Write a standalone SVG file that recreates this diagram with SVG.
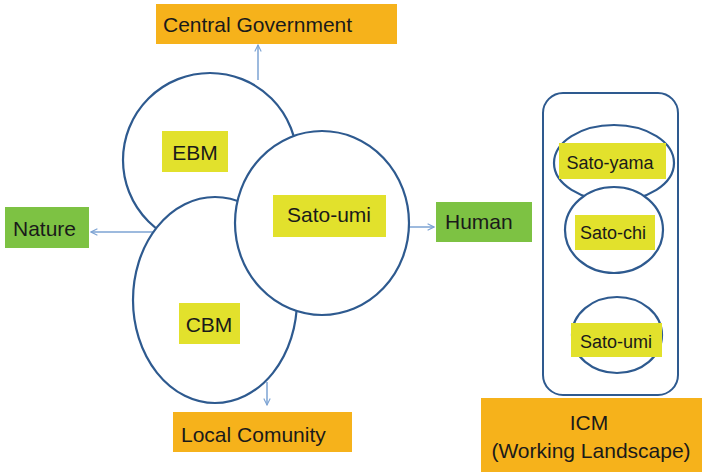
<svg xmlns="http://www.w3.org/2000/svg" width="702" height="472" viewBox="0 0 702 472">
  <defs>
    <marker id="arrow" viewBox="0 0 10 10" refX="9" refY="5" markerWidth="8" markerHeight="8" markerUnits="userSpaceOnUse" orient="auto">
      <path d="M1,1 L9,5 L1,9" fill="none" stroke="#7DA3D3" stroke-width="1.4"/>
    </marker>
  </defs>
  <style>
    text { font-family: "Liberation Sans", Arial, sans-serif; fill: #1a1a1a; }
    .ring { fill: #ffffff; stroke: #2E5A8F; stroke-width: 2.2; }
    .orange { fill: #F6B21B; }
    .green { fill: #7DC243; }
    .yellow { fill: #E2E12C; }
    .big { font-size: 21px; }
    .small { font-size: 18px; }
    .link { fill: none; stroke: #7DA3D3; stroke-width: 1.5; marker-end: url(#arrow); }
  </style>
  <rect width="702" height="472" fill="#ffffff"/>

  <!-- connectors -->
  <g id="connectors">
    <line class="link" x1="258" y1="80" x2="258" y2="45"/>
    <line class="link" x1="157" y1="232" x2="91" y2="232"/>
    <line class="link" x1="409" y1="227" x2="434" y2="227"/>
    <line class="link" x1="267" y1="382" x2="267" y2="405"/>
  </g>

  <!-- overlapping management circles -->
  <g id="ebm">
    <circle class="ring" cx="210" cy="160" r="87"/>
    <rect class="yellow" x="162" y="131" width="66" height="41"/>
    <text class="big" x="195" y="160" text-anchor="middle">EBM</text>
  </g>
  <g id="cbm">
    <ellipse class="ring" cx="215" cy="300" rx="82" ry="103"/>
    <rect class="yellow" x="179" y="303" width="61" height="41"/>
    <text class="big" x="209" y="332" text-anchor="middle">CBM</text>
  </g>
  <g id="sato-umi">
    <ellipse class="ring" cx="322" cy="223" rx="87" ry="92"/>
    <rect class="yellow" x="273" y="195" width="113" height="42"/>
    <text class="big" x="329" y="222" text-anchor="middle">Sato-umi</text>
  </g>

  <!-- outer labels -->
  <g id="central-government">
    <rect class="orange" x="156" y="4" width="241" height="40"/>
    <text class="big" x="163" y="32">Central Government</text>
  </g>
  <g id="nature">
    <rect class="green" x="5" y="207" width="84" height="41"/>
    <text class="big" x="13" y="236">Nature</text>
  </g>
  <g id="human">
    <rect class="green" x="436" y="202" width="96" height="40"/>
    <text class="big" x="445" y="229">Human</text>
  </g>
  <g id="local-community">
    <rect class="orange" x="173" y="412" width="179" height="40"/>
    <text class="big" x="181" y="442">Local Comunity</text>
  </g>

  <!-- working landscape panel -->
  <g id="landscape">
    <rect x="543" y="93" width="135" height="302" rx="20" ry="20" fill="#ffffff" stroke="#2E5A8F" stroke-width="2"/>
  </g>
  <g id="sato-yama">
    <ellipse class="ring" cx="614" cy="163" rx="60" ry="38"/>
    <rect class="yellow" x="559" y="143" width="107" height="36"/>
    <text class="small" x="610" y="169" text-anchor="middle">Sato-yama</text>
  </g>
  <g id="sato-chi">
    <ellipse class="ring" cx="614" cy="230" rx="49" ry="43"/>
    <rect class="yellow" x="575" y="215" width="80" height="35"/>
    <text class="small" x="613" y="239" text-anchor="middle">Sato-chi</text>
  </g>
  <g id="sato-umi-small">
    <ellipse class="ring" cx="617" cy="335" rx="45" ry="38"/>
    <rect class="yellow" x="571" y="323" width="91" height="34"/>
    <text class="small" x="616" y="348" text-anchor="middle">Sato-umi</text>
  </g>
  <g id="icm">
    <rect class="orange" x="481" y="398" width="221" height="74"/>
    <text class="big" x="589" y="430" text-anchor="middle">ICM</text>
    <text class="big" x="591" y="458" text-anchor="middle">(Working Landscape)</text>
  </g>
</svg>
